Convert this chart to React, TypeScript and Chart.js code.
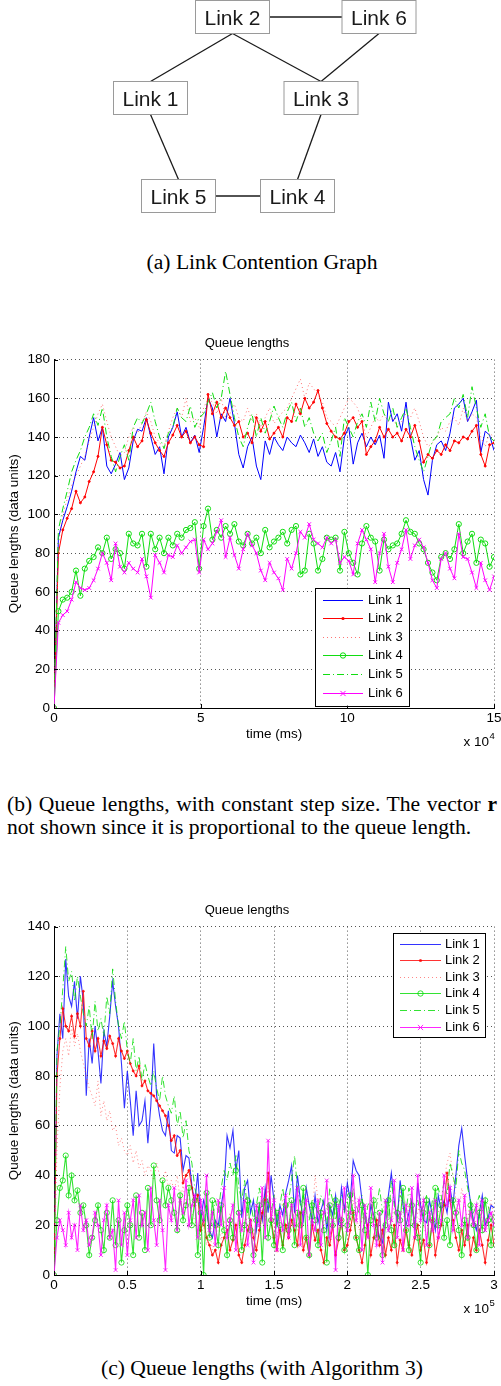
import React, { useEffect, useRef } from 'react';
import { Chart, registerables } from 'chart.js';

Chart.register(...registerables);

const SANS = "'Liberation Sans', Arial, Helvetica, sans-serif";
const SERIF = "'Liberation Serif', 'Times New Roman', Times, serif";

// ---------------- (a) Link contention graph ----------------
const linkNames = ['Link 1', 'Link 2', 'Link 3', 'Link 4', 'Link 5', 'Link 6'];
const nodeCol = [150.5, 232.5, 321, 297.5, 178.5, 379];
const nodeRow = [98, 17, 98, 196, 196, 17];
const edgeFrom = [1, 1, 1, 5, 0, 2, 4];
const edgeFromSide = ['right', 'bottom', 'bottom', 'bottom', 'bottom', 'bottom', 'right'];
const edgeTo = [5, 0, 2, 2, 4, 3, 3];
const edgeToSide = ['left', 'top', 'top', 'top', 'top', 'top', 'left'];

// ---------------- (b) constant step size (time in x10^4 ms) ----------------
const timeStepB = 0.15;
const xTicksB = [0, 5, 10, 15];
const yTicksB = [0, 20, 40, 60, 80, 100, 120, 140, 160, 180];

const link1B = [
  0, 88, 97, 104, 112, 122, 130, 128, 140, 150,
  138, 145, 125, 121, 126, 132, 118, 124, 138, 144,
  143, 150, 140, 131, 135, 121, 140, 145, 153, 140,
  145, 137, 141, 132, 145, 160, 155, 140, 152, 148,
  160, 147, 131, 124, 135, 140, 125, 118, 138, 131,
  140, 136, 133, 140, 137, 135, 141, 137, 132, 139,
  130, 135, 127, 125, 132, 122, 140, 145, 126, 137,
  142, 135, 140, 136, 141, 129, 158, 148, 152, 143,
  158, 140, 128, 133, 118, 110, 128, 136, 138, 133,
  142, 155, 157, 160, 148, 153, 159, 132, 143, 141,
  133,
];
const link2B = [
  0, 80, 92, 98, 103, 112, 106, 109, 117, 122,
  130, 145, 136, 128, 127, 124, 125, 133, 140, 135,
  138, 149, 142, 137, 133, 130, 137, 141, 146, 140,
  143, 137, 140, 136, 135, 162, 152, 158, 150, 155,
  150, 146, 148, 140, 142, 137, 150, 143, 148, 139,
  142, 145, 140, 150, 148, 157, 152, 160, 155, 158,
  164, 155, 147, 143, 140, 139, 142, 148, 150, 145,
  148, 131, 135, 138, 145, 140, 144, 140, 142, 138,
  144, 140, 146, 138, 127, 131, 129, 133, 131, 136,
  133, 138, 137, 140, 139, 143, 146, 131, 125, 136,
  137,
];
const link3B = [
  0, 85, 100, 108, 115, 120, 125, 130, 138, 145,
  152, 157, 148, 140, 135, 130, 132, 140, 145, 142,
  147, 153, 148, 140, 137, 135, 143, 150, 155, 150,
  160, 148, 150, 145, 155, 160, 158, 152, 160, 150,
  152, 157, 150, 148, 155, 148, 152, 145, 150, 155,
  147, 150, 153, 155, 160, 165, 170, 160, 168, 165,
  162, 158, 150, 148, 145, 150, 155, 160, 158, 155,
  148, 140, 145, 150, 148, 152, 148, 150, 145, 148,
  152, 150, 155, 148, 140, 135, 137, 140, 145, 143,
  148, 150, 146, 155, 148, 152, 150, 140, 135, 142,
  140,
];
const link4B = [
  0, 50, 56, 57, 60, 71, 58, 72, 76, 78,
  83, 80, 88, 77, 82, 80, 72, 90, 85, 84,
  90, 73, 90, 82, 88, 80, 88, 84, 90, 88,
  92, 93, 96, 72, 94, 103, 87, 92, 88, 94,
  90, 95, 86, 84, 90, 85, 88, 80, 92, 83,
  86, 88, 91, 85, 92, 94, 69, 71, 90, 85,
  71, 77, 88, 87, 88, 71, 91, 80, 75, 69,
  85, 94, 88, 86, 71, 87, 82, 84, 85, 90,
  97, 91, 90, 85, 82, 75, 70, 66, 78, 80,
  77, 82, 95, 80, 86, 90, 75, 87, 85, 73,
  78,
];
const link5B = [
  0, 92, 103, 112, 122, 128, 133, 140, 145, 152,
  146, 155, 140, 130, 122, 130, 136, 128, 145, 150,
  147, 152, 158, 148, 140, 134, 142, 145, 155, 150,
  148, 156, 145, 150, 152, 158, 163, 155, 160, 174,
  162, 150, 140, 135, 145, 152, 140, 150, 142, 148,
  156, 150, 145, 153, 158, 148, 155, 145, 150, 142,
  138, 142, 132, 138, 145, 130, 150, 145, 140, 148,
  152, 145, 158, 148, 160, 152, 148, 155, 145, 150,
  155, 145, 135, 128, 122, 130, 138, 140, 148, 150,
  152, 160, 155, 162, 150, 166, 155, 145, 152, 140,
  138,
];
const link6B = [
  0, 44, 48, 50, 56, 65, 62, 61, 62, 66,
  72, 80, 75, 66, 85, 73, 70, 75, 72, 70,
  77, 68, 57, 79, 75, 70, 79, 78, 84, 80,
  83, 86, 87, 70, 87, 82, 85, 91, 97, 78,
  88, 79, 72, 82, 90, 84, 80, 71, 66, 75,
  70, 67, 61, 77, 72, 80, 91, 88, 95, 87,
  85, 83, 88, 85, 87, 75, 78, 76, 69, 85,
  92, 87, 82, 65, 80, 90, 73, 65, 75, 82,
  92, 77, 84, 87, 83, 75, 66, 62, 77, 80,
  72, 67, 90, 78, 77, 70, 62, 75, 66, 61,
  68,
];

// ---------------- (c) with Algorithm 3 (time in x10^5 ms) ----------------
const timeStepC = 0.02;
const xTicksC = [0, 0.5, 1, 1.5, 2, 2.5, 3];
const yTicksC = [0, 20, 40, 60, 80, 100, 120, 140];

const link1C = [
  0, 88, 105, 95, 127, 112, 108, 118, 103, 120,
  110, 72, 95, 85, 100, 90, 77, 98, 92, 104,
  118, 108, 100, 85, 67, 82, 70, 56, 74, 60,
  62, 70, 53, 68, 93, 72, 64, 58, 56, 66,
  50, 49, 56, 55, 42, 48, 47, 36, 29, 41,
  22, 30, 26, 18, 15, 22, 20, 28, 35, 56,
  51, 58, 42, 50, 23, 35, 38, 25, 30, 18,
  28, 22, 35, 25, 40, 30, 20, 28, 24, 33,
  38, 44, 25, 40, 30, 22, 35, 28, 21, 32,
  21, 26, 30, 18, 28, 24, 32, 20, 35, 26,
  37, 30, 46, 42, 40, 30, 25, 18, 28, 24,
  20, 15, 13, 25, 32, 41, 30, 22, 38, 28,
  20, 25, 30, 18, 37, 28, 22, 21, 30, 24,
  18, 32, 26, 30, 25, 35, 28, 40, 52, 59,
  48, 38, 29, 22, 18, 25, 32, 20, 23, 28,
  27,
];
const link2C = [
  0, 80, 95, 107, 100, 98, 104, 96, 105, 100,
  114, 95, 92, 98, 90, 95, 88, 94, 91, 96,
  93, 88, 95, 90, 87, 90, 85, 82, 80, 84,
  76, 78, 74, 73, 72, 70, 68, 66, 64, 60,
  54, 56, 48, 50, 37, 40, 42, 35, 28, 32,
  18, 22, 15, 12, 8, 10, 5, 12, 15, 18,
  10, 14, 20, 8, 5, 12, 18, 22, 15, 10,
  18, 25, 30, 41, 22, 15, 10, 18, 12, 20,
  15, 22, 18, 12, 25, 10, 15, 8, 20, 14,
  18, 10, 5, 15, 12, 20, 8, 14, 22, 10,
  12, 18, 25, 15, 10, 5, 12, 20, 8, 15,
  22, 12, 18, 8, 15, 10, 20, 5, 14, 10,
  18, 12, 8, 15, 20, 10, 14, 5, 12, 22,
  8, 15, 20, 28, 41, 30, 22, 15, 10, 18,
  12, 20, 8, 15, 10, 18, 12, 5, 14, 20,
  12,
];
const link3C = [
  0, 50, 75, 90, 95, 88, 100, 92, 97, 90,
  85, 80, 75, 72, 68, 78, 64, 70, 62, 66,
  58, 60, 52, 55, 50, 48, 52, 45, 50, 43,
  46, 40, 44, 42, 38, 45, 40, 36, 42, 35,
  38, 34, 40, 30, 36, 28, 32, 25, 22, 18,
  15, 20, 12, 18, 10, 15, 20, 14, 22, 18,
  25, 20, 15, 22, 12, 18, 25, 20, 15, 22,
  18, 30, 25, 35, 28, 20, 15, 22, 30, 25,
  20, 28, 22, 18, 25, 30, 35, 28, 22, 40,
  30, 25, 20, 28, 22, 30, 25, 18, 22, 28,
  25, 20, 30, 24, 18, 22, 28, 15, 20, 25,
  18, 22, 15, 25, 30, 20, 28, 22, 35, 25,
  20, 28, 22, 18, 25, 30, 20, 15, 22, 28,
  18, 25, 30, 38, 45, 49, 40, 30, 25, 35,
  28, 22, 30, 25, 20, 28, 22, 18, 25, 30,
  22,
];
const link4C = [
  0, 22, 35, 38, 48, 32, 40, 30, 34, 25,
  28, 20, 8, 15, 22, 28, 18, 10, 25, 15,
  30, 12, 22, 5, 18, 28, 20, 8, 32, 15,
  25, 10, 35, 20, 44, 30, 22, 38, 28, 35,
  30, 25, 18, 32, 22, 28, 35, 20, 30, 8,
  25, 0, 33, 15, 30, 20, 12, 28, 18, 8,
  22, 15, 42, 25, 10, 20, 30, 18, 8, 22,
  28, 5, 30, 15, 22, 12, 25, 20, 10, 28,
  18, 30, 12, 25, 20, 35, 15, 8, 28, 22,
  12, 25, 18, 5, 28, 20, 30, 15, 22, 10,
  20, 32, 25, 15, 10, 28, 18, 0, 22, 30,
  15, 25, 8, 20, 30, 18, 12, 25, 22, 35,
  18, 10, 28, 20, 15, 5, 25, 30, 12, 22,
  35, 20, 28, 15, 22, 12, 30, 25, 18, 8,
  22, 15, 28, 20, 10, 25, 18, 30, 22, 12,
  22,
];
const link5C = [
  0, 90, 100, 115, 132, 118, 122, 110, 120, 112,
  105, 100, 108, 95, 110, 98, 103, 96, 112, 105,
  123, 110, 100, 95, 102, 90, 85, 95, 82, 88,
  78, 85, 80, 76, 82, 75, 70, 80, 72, 68,
  65, 72, 60, 66, 55, 62, 50, 45, 35, 30,
  25, 20, 28, 18, 22, 30, 25, 35, 42, 38,
  45, 40, 48, 35, 30, 38, 25, 30, 22, 28,
  35, 28, 22, 30, 25, 32, 20, 28, 35, 25,
  30, 38, 48, 35, 28, 32, 25, 22, 30, 28,
  25, 32, 28, 20, 35, 30, 22, 28, 32, 25,
  30, 22, 35, 28, 25, 32, 20, 28, 30, 22,
  28, 35, 25, 30, 22, 38, 28, 25, 32, 30,
  25, 35, 28, 22, 30, 25, 28, 32, 22, 30,
  28, 35, 30, 38, 32, 45, 40, 35, 50, 45,
  42, 35, 30, 25, 28, 32, 25, 30, 28, 22,
  25,
];
const link6C = [
  0, 15, 22, 18, 12, 25, 15, 20, 10, 28,
  18, 22, 12, 15, 25, 20, 8, 22, 28, 15,
  18, 2, 30, 12, 25, 8, 22, 30, 15, 32,
  20, 25, 10, 35, 22, 12, 30, 18, 2, 28,
  22, 35, 18, 30, 25, 38, 20, 28, 32, 15,
  30, 22, 40, 18, 25, 12, 30, 20, 35, 15,
  22, 28, 10, 25, 18, 30, 12, 22, 5, 28,
  20, 35, 15, 54, 22, 30, 10, 25, 18, 32,
  15, 28, 20, 35, 12, 25, 30, 8, 22, 18,
  30, 12, 25, 38, 15, 22, 2, 28, 20, 35,
  18, 25, 40, 22, 30, 10, 28, 15, 35, 20,
  12, 25, 5, 30, 18, 22, 38, 15, 25, 10,
  28, 20, 35, 15, 40, 22, 30, 12, 25, 18,
  30, 15, 22, 40, 28, 35, 18, 25, 30, 20,
  32, 15, 25, 20, 28, 12, 30, 18, 22, 25,
  20,
];

// ---------------- styles ----------------
const stylesB = [
  { color: '#0000ff', dash: [], marker: 'none', width: 1 },
  { color: '#ff0000', dash: [], marker: 'dot', width: 1 },
  { color: 'rgba(255,70,70,0.75)', dash: [1, 3], marker: 'none', width: 1 },
  { color: '#11dd11', dash: [], marker: 'circle', width: 1 },
  { color: '#11dd11', dash: [7, 3, 1, 3], marker: 'none', width: 1 },
  { color: '#ff00ff', dash: [], marker: 'x', width: 1 },
];
const stylesC = [
  { color: 'rgba(0,0,255,0.8)', dash: [], marker: 'none', width: 1.1 },
  { color: 'rgba(255,0,0,0.8)', dash: [], marker: 'dot', width: 1.1 },
  { color: 'rgba(255,70,70,0.65)', dash: [1, 3], marker: 'none', width: 1 },
  { color: 'rgba(0,220,0,0.8)', dash: [], marker: 'circle', width: 1.1 },
  { color: 'rgba(0,220,0,0.8)', dash: [7, 3, 1, 3], marker: 'none', width: 1 },
  { color: 'rgba(255,0,255,0.85)', dash: [], marker: 'x', width: 1.1 },
];

function buildDatasets(series: number[][], step: number, styles: any[]) {
  return series.map((vals, i) => {
    const s = styles[i];
    const m = s.marker;
    return {
      label: linkNames[i],
      data: vals.map((y, k) => ({ x: Math.round(k * step * 10000) / 10000, y })),
      borderColor: s.color,
      borderWidth: s.width,
      borderDash: s.dash,
      tension: 0,
      fill: false,
      pointRadius: m === 'none' ? 0 : m === 'dot' ? 1 : 2.6,
      pointStyle: m === 'x' ? 'crossRot' : 'circle',
      pointBackgroundColor: m === 'dot' ? s.color : 'rgba(0,0,0,0)',
      pointBorderColor: s.color,
      pointBorderWidth: 1,
      pointHoverRadius: 0,
      order: series.length - i,
      marker: m,
    };
  });
}

function drawMarker(ctx: CanvasRenderingContext2D, m: string, x: number, y: number, color: string) {
  ctx.save();
  ctx.setLineDash([]);
  ctx.strokeStyle = color;
  ctx.fillStyle = color;
  ctx.lineWidth = 1;
  if (m === 'dot') {
    ctx.beginPath();
    ctx.arc(x, y, 1.6, 0, Math.PI * 2);
    ctx.fill();
  } else if (m === 'circle') {
    ctx.beginPath();
    ctx.arc(x, y, 2.7, 0, Math.PI * 2);
    ctx.stroke();
  } else if (m === 'x') {
    const r = 2.6;
    ctx.beginPath();
    ctx.moveTo(x - r, y - r);
    ctx.lineTo(x + r, y + r);
    ctx.moveTo(x + r, y - r);
    ctx.lineTo(x - r, y + r);
    ctx.stroke();
  }
  ctx.restore();
}

const decorPlugin = {
  id: 'decor',
  afterDraw(chart: any, _args: any, opts: any) {
    const { ctx, chartArea: a, scales } = chart;
    const xs = scales.x;
    const ys = scales.y;
    ctx.save();
    // inward tick marks
    ctx.strokeStyle = '#000';
    ctx.lineWidth = 1;
    ctx.setLineDash([]);
    ctx.beginPath();
    for (const t of xs.ticks) {
      const px = Math.round(xs.getPixelForValue(t.value)) + 0.5;
      ctx.moveTo(px, a.bottom);
      ctx.lineTo(px, a.bottom - 4);
    }
    for (const t of ys.ticks) {
      const py = Math.round(ys.getPixelForValue(t.value)) + 0.5;
      ctx.moveTo(a.left, py);
      ctx.lineTo(a.left + 4, py);
    }
    ctx.stroke();

    // exponent label
    ctx.fillStyle = '#000';
    ctx.textBaseline = 'alphabetic';
    ctx.font = `13.5px ${SANS}`;
    ctx.textAlign = 'right';
    ctx.fillText('x 10', opts.expRight, a.bottom + opts.expDrop);
    ctx.font = `9.5px ${SANS}`;
    ctx.textAlign = 'left';
    ctx.fillText(opts.exponent, opts.expRight + 0.5, a.bottom + opts.expDrop - 7);

    // legend
    const L = opts.legend;
    const bx = a.left + L.dx;
    const by = a.top + L.dy;
    ctx.fillStyle = '#fff';
    ctx.fillRect(bx, by, L.w, L.h);
    ctx.strokeStyle = '#000';
    ctx.lineWidth = 1;
    ctx.strokeRect(Math.round(bx) + 0.5, Math.round(by) + 0.5, L.w, L.h);
    ctx.font = `13px ${SANS}`;
    ctx.textBaseline = 'middle';
    ctx.textAlign = 'left';
    chart.data.datasets.forEach((ds: any, i: number) => {
      const yy = Math.round(by + L.row0 + i * L.rowStep) + 0.5;
      ctx.save();
      ctx.strokeStyle = ds.borderColor;
      ctx.lineWidth = 1;
      ctx.setLineDash(ds.borderDash || []);
      ctx.beginPath();
      ctx.moveTo(bx + L.s0, yy);
      ctx.lineTo(bx + L.s1, yy);
      ctx.stroke();
      ctx.restore();
      drawMarker(ctx, ds.marker, bx + (L.s0 + L.s1) / 2, yy, ds.borderColor);
      ctx.fillStyle = '#000';
      ctx.fillText(ds.label, bx + L.tx, yy);
    });
    ctx.restore();
  },
};

function queueConfig(series: number[][], step: number, styles: any[], xTicks: number[], yTicks: number[], exponent: string, legend: any) {
  const axisFont = { family: SANS, size: 13.5 };
  return {
    type: 'line',
    data: { datasets: buildDatasets(series, step, styles) },
    options: {
      animation: false,
      responsive: false,
      events: [],
      layout: { padding: { left: 0, right: 7, top: 0, bottom: 18 } },
      plugins: {
        legend: { display: false },
        tooltip: { enabled: false },
        title: {
          display: true,
          text: 'Queue lengths',
          color: '#000',
          font: { family: SANS, size: 13, weight: 'normal' },
          padding: { top: 8, bottom: 8 },
        },
        decor: { exponent, expRight: 489, expDrop: 38, legend },
      },
      scales: {
        x: {
          type: 'linear',
          min: xTicks[0],
          max: xTicks[xTicks.length - 1],
          afterBuildTicks: (sc: any) => {
            sc.ticks = xTicks.map((v) => ({ value: v }));
          },
          afterFit: (sc: any) => {
            sc.height = 34;
            sc.paddingLeft = 0;
            sc.paddingRight = 0;
          },
          ticks: { color: '#000', font: axisFont, padding: 2, maxRotation: 0, autoSkip: false, callback: (v: any) => String(v) },
          grid: { color: '#555', lineWidth: 1, drawTicks: false },
          border: { display: true, color: '#000', width: 1, dash: [1, 3] },
          title: { display: true, text: 'time (ms)', color: '#000', font: axisFont, padding: { top: 0, bottom: 0 } },
        },
        y: {
          type: 'linear',
          min: yTicks[0],
          max: yTicks[yTicks.length - 1],
          afterBuildTicks: (sc: any) => {
            sc.ticks = yTicks.map((v) => ({ value: v }));
          },
          afterFit: (sc: any) => {
            sc.width = 54;
            sc.paddingTop = 0;
            sc.paddingBottom = 0;
          },
          ticks: { color: '#000', font: axisFont, padding: 4, autoSkip: false, callback: (v: any) => String(v) },
          grid: { color: '#555', lineWidth: 1, drawTicks: false },
          border: { display: true, color: '#000', width: 1, dash: [1, 3] },
          title: { display: true, text: 'Queue lengths (data units)', color: '#000', font: axisFont, padding: { top: 6, bottom: 0 } },
        },
      },
    },
    plugins: [decorPlugin],
  };
}

// ---------------- diagram ----------------
const BOX_W = 74;
const BOX_H = 33;

function anchor(i: number, side: string) {
  const x = nodeCol[i];
  const y = nodeRow[i];
  if (side === 'top') return { x, y: y - BOX_H / 2 };
  if (side === 'bottom') return { x, y: y + BOX_H / 2 };
  if (side === 'left') return { x: x - BOX_W / 2, y };
  return { x: x + BOX_W / 2, y };
}

const boxPlugin = {
  id: 'boxes',
  afterDatasetsDraw(chart: any) {
    const { ctx, scales } = chart;
    ctx.save();
    linkNames.forEach((name, i) => {
      const cx = scales.x.getPixelForValue(nodeCol[i]);
      const cy = scales.y.getPixelForValue(nodeRow[i]);
      const l = cx - BOX_W / 2;
      const t = cy - BOX_H / 2;
      ctx.fillStyle = '#fff';
      ctx.fillRect(l, t, BOX_W, BOX_H);
      ctx.strokeStyle = '#9a9a9a';
      ctx.lineWidth = 1;
      ctx.strokeRect(l, t, BOX_W, BOX_H);
      ctx.fillStyle = '#1a1a1a';
      ctx.font = `21px ${SANS}`;
      ctx.textAlign = 'center';
      ctx.textBaseline = 'alphabetic';
      ctx.fillText(name, cx, cy + 7.5);
    });
    ctx.restore();
  },
};

function diagramConfig() {
  return {
    type: 'line',
    data: {
      datasets: edgeFrom.map((f, e) => ({
        data: [anchor(f, edgeFromSide[e]), anchor(edgeTo[e], edgeToSide[e])],
        borderColor: '#1a1a1a',
        borderWidth: 1.3,
        pointRadius: 0,
        tension: 0,
      })),
    },
    options: {
      animation: false,
      responsive: false,
      events: [],
      layout: { padding: 0 },
      plugins: { legend: { display: false }, tooltip: { enabled: false }, title: { display: false } },
      scales: {
        x: { type: 'linear', display: false, min: 0, max: 501 },
        y: { type: 'linear', display: false, min: 0, max: 240, reverse: true },
      },
    },
    plugins: [boxPlugin],
  };
}

function ChartCanvas(props: { make: () => any; left: number; top: number; width: number; height: number }) {
  const ref = useRef<HTMLCanvasElement>(null);
  useEffect(() => {
    const chart = new Chart(ref.current as HTMLCanvasElement, props.make());
    return () => chart.destroy();
  }, []);
  return (
    <canvas
      ref={ref}
      width={props.width}
      height={props.height}
      style={{ position: 'absolute', left: props.left, top: props.top, width: props.width, height: props.height }}
    />
  );
}

const captionStyle: React.CSSProperties = {
  position: 'absolute',
  font: `21.6px ${SERIF}`,
  lineHeight: '21.6px',
  color: '#000',
  whiteSpace: 'nowrap',
};

export default function App() {
  const makeB = () =>
    queueConfig([link1B, link2B, link3B, link4B, link5B, link6B], timeStepB, stylesB, xTicksB, yTicksB, '4', {
      dx: 261, dy: 228, w: 94, h: 118, row0: 12, rowStep: 18.6, s0: 8, s1: 48, tx: 53,
    });
  const makeC = () =>
    queueConfig([link1C, link2C, link3C, link4C, link5C, link6C], timeStepC, stylesC, xTicksC, yTicksC, '5', {
      dx: 339, dy: 6, w: 92, h: 104, row0: 11, rowStep: 16.6, s0: 7, s1: 48, tx: 52,
    });
  return (
    <div style={{ position: 'absolute', left: 0, top: 0, width: 501, height: 1386, background: '#fff', overflow: 'hidden' }}>
      <ChartCanvas make={diagramConfig} left={0} top={0} width={501} height={240} />
      <div style={{ ...captionStyle, left: 0, top: 252, width: 524, textAlign: 'center' }}>(a) Link Contention Graph</div>

      <ChartCanvas make={makeB} left={0} top={328} width={501} height={432} />
      <div style={{ ...captionStyle, left: 7, top: 794, width: 490, textAlign: 'justify', textAlignLast: 'justify' } as any}>
        (b) Queue lengths, with constant step size. The vector <b>r</b>
      </div>
      <div style={{ ...captionStyle, left: 7, top: 817 }}>not shown since it is proportional to the queue length.</div>

      <ChartCanvas make={makeC} left={0} top={895} width={501} height={432} />
      <div style={{ ...captionStyle, left: 0, top: 1358, width: 524, textAlign: 'center' }}>(c) Queue lengths (with Algorithm 3)</div>
    </div>
  );
}
